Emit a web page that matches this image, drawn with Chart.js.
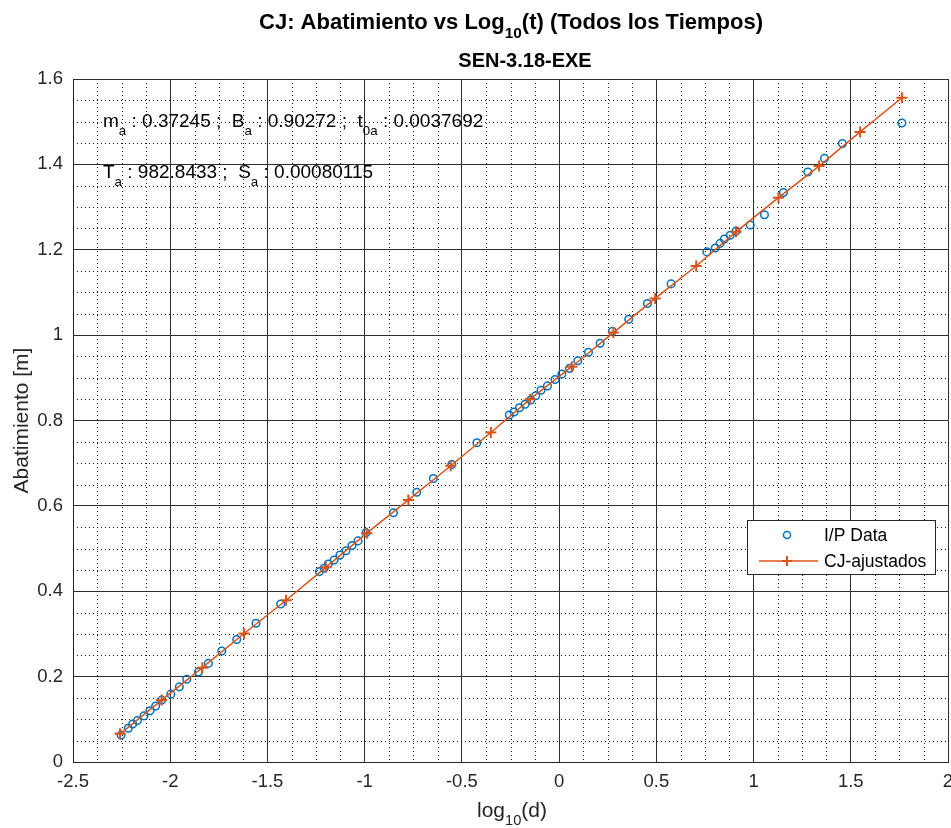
<!DOCTYPE html>
<html><head><meta charset="utf-8">
<script src="https://cdn.jsdelivr.net/npm/chart.js@4"></script>
<style>html,body{margin:0;padding:0;background:#fff}#wrap{width:951px;height:828px;overflow:hidden}</style>
</head><body><div id="wrap"><canvas id="c" width="951" height="828"></canvas></div>
<script>
// ---- Data ----
const ipX = [-2.253,-2.216,-2.193,-2.169,-2.135,-2.104,-2.075,-2.044,-1.997,-1.953,-1.915,-1.855,-1.804,-1.735,-1.658,-1.559,-1.432,
  -1.233,-1.209,-1.187,-1.157,-1.127,-1.096,-1.065,-1.034,-0.993,-0.852,-0.732,-0.647,-0.552,-0.423,
  -0.256,-0.232,-0.204,-0.175,-0.146,-0.120,-0.093,-0.060,-0.021,0.014,0.053,0.096,0.151,0.211,0.274,0.358,0.454,0.576,
  0.760,0.803,0.828,0.850,0.880,0.910,0.983,1.056,1.154,1.279,1.365,1.457,1.763];
const ipY = [0.063,0.079,0.089,0.097,0.108,0.120,0.131,0.145,0.159,0.176,0.194,0.211,0.231,0.260,0.287,0.325,0.370,
  0.446,0.454,0.464,0.473,0.485,0.495,0.507,0.518,0.537,0.584,0.632,0.664,0.697,0.748,
  0.813,0.820,0.830,0.838,0.848,0.858,0.871,0.881,0.896,0.909,0.922,0.940,0.960,0.981,1.009,1.037,1.074,1.120,
  1.195,1.204,1.215,1.225,1.234,1.244,1.258,1.282,1.334,1.382,1.414,1.449,1.497];
const fitX = [-2.258,-2.044,-1.835,-1.620,-1.404,-1.200,-0.989,-0.775,-0.557,-0.351,-0.149,0.065,0.279,0.494,0.705,0.910,1.128,1.337,1.548,1.763];
const fitY = [0.066,0.145,0.221,0.301,0.379,0.456,0.536,0.614,0.694,0.772,0.850,0.926,1.006,1.086,1.162,1.242,1.322,1.396,1.476,1.556];
const xTickLabels = ['-2.5','-2','-1.5','-1','-0.5','0','0.5','1','1.5','2'];
const yTickLabels = ['0','0.2','0.4','0.6','0.8','1','1.2','1.4','1.6'];
const seriesNames = ['I/P Data','CJ-ajustados'];
const line1 = [['m'],['a',1],[' : 0.37245 ;  B'],['a',1],[' : 0.90272 ;  t'],['0a',1],[' : 0.0037692']];
const line2 = [['T'],['a',1],[' : 982.8433 ;  S'],['a',1],[' : 0.00080115']];
const titleParts = [['CJ: Abatimiento vs Log'],['10',1],['(t) (Todos los Tiempos)']];
const subtitle = 'SEN-3.18-EXE';
const xLabelParts = [['log'],['10',1],['(d)']];
const yLabel = 'Abatimiento [m]';

const FF = '"Liberation Sans", Arial, Helvetica, sans-serif';
const BLUE = '#0072BD', ORANGE = '#D95319', AX = '#262626';

function richWidth(ctx, parts, size, bold) {
  let w = 0;
  for (const p of parts) {
    ctx.font = (bold ? 'bold ' : '') + (p[1] ? size * 0.7 : size) + 'px ' + FF;
    w += ctx.measureText(p[0]).width;
  }
  return w;
}
function drawRich(ctx, parts, x, y, size, bold, align) {
  let w = richWidth(ctx, parts, size, bold);
  let cx = align === 'center' ? x - w / 2 : x;
  ctx.textAlign = 'left'; ctx.textBaseline = 'alphabetic';
  for (const p of parts) {
    ctx.font = (bold ? 'bold ' : '') + (p[1] ? size * 0.7 : size) + 'px ' + FF;
    ctx.fillText(p[0], cx, p[1] ? y + size * 0.4 : y);
    cx += ctx.measureText(p[0]).width;
  }
}

const decor = {
  id: 'decor',
  beforeDatasetsDraw(chart) {
    const {ctx, chartArea: a, scales: {x, y}} = chart;
    ctx.save();
    ctx.strokeStyle = '#1a1a1a'; ctx.lineWidth = 1; ctx.setLineDash([1, 3]);
    for (let i = 0; i <= 36; i++) {
      if (i % 4 === 0) continue;
      const px = Math.round(x.getPixelForValue(-2.5 + i * 0.125)) + 0.5;
      ctx.beginPath(); ctx.moveTo(px, a.top); ctx.lineTo(px, a.bottom); ctx.stroke();
    }
    for (let i = 0; i <= 32; i++) {
      if (i % 4 === 0) continue;
      const py = Math.round(y.getPixelForValue(i * 0.05)) + 0.5;
      ctx.beginPath(); ctx.moveTo(a.left, py); ctx.lineTo(a.right, py); ctx.stroke();
    }
    ctx.restore();
  },
  afterDraw(chart) {
    const {ctx, chartArea: a} = chart;
    ctx.save();
    ctx.fillStyle = '#000';
    drawRich(ctx, titleParts, 511, 29, 22, true, 'center');
    ctx.font = 'bold 20px ' + FF; ctx.textAlign = 'center';
    ctx.fillText(subtitle, 525, 67);
    ctx.fillStyle = '#000';
    drawRich(ctx, line1, 103, 127, 19, false, 'left');
    drawRich(ctx, line2, 103, 178, 19, false, 'left');
    // axis labels
    ctx.fillStyle = AX;
    drawRich(ctx, xLabelParts, 512, 817, 21, false, 'center');
    ctx.save();
    ctx.translate(22, (a.top + a.bottom) / 2); ctx.rotate(-Math.PI / 2);
    ctx.font = '21px ' + FF; ctx.textAlign = 'center'; ctx.textBaseline = 'middle';
    ctx.fillText(yLabel, 0, 0);
    ctx.restore();
    // legend
    const L = 747.5, T = 520.5, W = 188, H = 54;
    ctx.fillStyle = '#fff'; ctx.fillRect(L, T, W, H);
    ctx.strokeStyle = AX; ctx.lineWidth = 1; ctx.setLineDash([]);
    ctx.strokeRect(L, T, W, H);
    ctx.strokeStyle = BLUE; ctx.lineWidth = 1.5;
    ctx.beginPath(); ctx.arc(787, 535, 3.5, 0, Math.PI * 2); ctx.stroke();
    ctx.strokeStyle = ORANGE; ctx.lineWidth = 1.5;
    ctx.beginPath(); ctx.moveTo(759, 561); ctx.lineTo(818, 561); ctx.stroke();
    ctx.lineWidth = 2;
    ctx.beginPath(); ctx.moveTo(787, 556); ctx.lineTo(787, 566); ctx.moveTo(782, 561); ctx.lineTo(792, 561); ctx.stroke();
    ctx.fillStyle = '#000'; ctx.font = '17.5px ' + FF; ctx.textAlign = 'left'; ctx.textBaseline = 'middle';
    ctx.fillText(seriesNames[0], 824, 536);
    ctx.fillText(seriesNames[1], 824, 562);
    ctx.restore();
  }
};

new Chart(document.getElementById('c'), {
  type: 'scatter',
  data: {
    datasets: [
      { label: seriesNames[0], data: ipX.map((v, i) => ({x: v, y: ipY[i]})), showLine: false,
        pointStyle: 'circle', pointRadius: 3.8, pointBorderWidth: 1.5, pointBorderColor: BLUE,
        pointBackgroundColor: 'rgba(0,0,0,0)', borderColor: BLUE, order: 1 },
      { label: seriesNames[1], data: fitX.map((v, i) => ({x: v, y: fitY[i]})), showLine: true,
        borderColor: ORANGE, borderWidth: 1.5, pointStyle: 'cross', pointRadius: 5.5, pointBorderWidth: 2,
        pointBorderColor: ORANGE, pointBackgroundColor: ORANGE, order: 0 }
    ]
  },
  options: {
    responsive: false, animation: false, devicePixelRatio: 1,
    layout: { padding: {top: 79, right: 3, left: 0, bottom: 0}, autoPadding: false },
    plugins: { legend: {display: false}, tooltip: {enabled: false}, title: {display: false} },
    scales: {
      x: { type: 'linear', min: -2.5, max: 2,
        ticks: { stepSize: 0.5, autoSkip: false, maxRotation: 0, padding: 9, color: AX,
          font: {size: 18.5, family: FF}, callback: (v, i) => xTickLabels[i] },
        grid: { color: '#2e2e2e', lineWidth: 1, drawTicks: false, tickLength: 0 },
        border: { color: AX, width: 1 },
        afterFit: s => { s.height = 66; s.paddingLeft = 0; s.paddingRight = 0; } },
      y: { type: 'linear', min: 0, max: 1.6,
        ticks: { stepSize: 0.2, autoSkip: false, padding: 10, color: AX,
          font: {size: 18.5, family: FF}, callback: (v, i) => yTickLabels[i] },
        grid: { color: '#2e2e2e', lineWidth: 1, drawTicks: false, tickLength: 0 },
        border: { color: AX, width: 1 },
        afterFit: s => { s.width = 73; s.paddingTop = 0; s.paddingBottom = 0; } }
    }
  },
  plugins: [decor]
});
</script></body></html>
